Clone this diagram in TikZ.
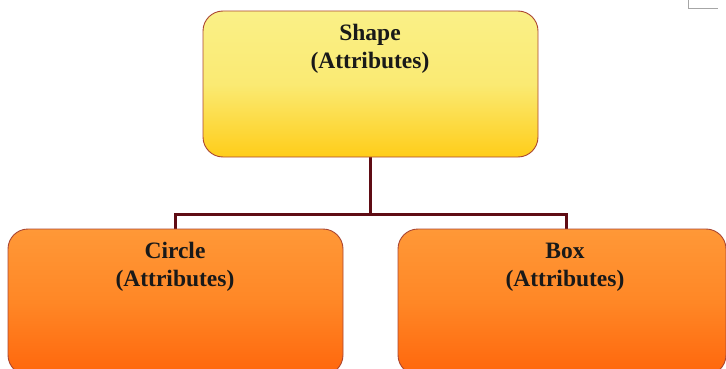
\documentclass[tikz,border=0pt]{standalone}
\usepackage{fontspec}
\setmainfont{Liberation Serif}
\begin{document}
\begin{tikzpicture}[x=1pt,y=-1pt,
  card/.style={draw=cardedge, line width=0.9pt, rounded corners=20pt},
  rootcard/.style={card, top color=rootTop, bottom color=rootBot, middle color=rootMid},
  leafcard/.style={card, top color=leafTop, bottom color=leafBot, middle color=leafMid},
  label/.style={font=\fontsize{23.5}{28}\selectfont\bfseries, align=center, text=black!90},
  link/.style={draw=linkred, line width=3pt}
]
\definecolor{cardedge}{RGB}{170,70,50}
\definecolor{rootTop}{RGB}{250,240,135}
\definecolor{rootMid}{RGB}{250,234,115}
\definecolor{rootBot}{RGB}{255,205,25}
\definecolor{leafTop}{RGB}{255,152,55}
\definecolor{leafMid}{RGB}{255,135,38}
\definecolor{leafBot}{RGB}{255,102,12}
\definecolor{linkred}{RGB}{95,12,20}

\useasboundingbox (0,0) rectangle (726,369);

% connectors (drawn first, boxes sit on top)
\coordinate (hub) at (370,214);
\coordinate (hl) at (175,214);
\coordinate (hr) at (566,214);
\draw[link] (370,150) -- (hub);
\draw[link] (hl) -- (hr);
\draw[link, line cap=rect] (hl) -- (175,232);
\draw[link, line cap=rect] (hr) -- (566,232);

% boxes
\path[rootcard] (203,11) rectangle (538,157);
\path[leafcard] (8,229) rectangle (343,375);
\path[leafcard] (398,229) rectangle (726,375);

\node[label] (shape) at (370,49) {Shape\\(Attributes)};
\node[label] (circle) at (175,267) {Circle\\(Attributes)};
\node[label] (box) at (565,267) {Box\\(Attributes)};

% small grey corner mark at top right
\draw[gray!70, line width=1pt] (688,0) -- (688,9) -- (718,9);
\end{tikzpicture}
\end{document}
